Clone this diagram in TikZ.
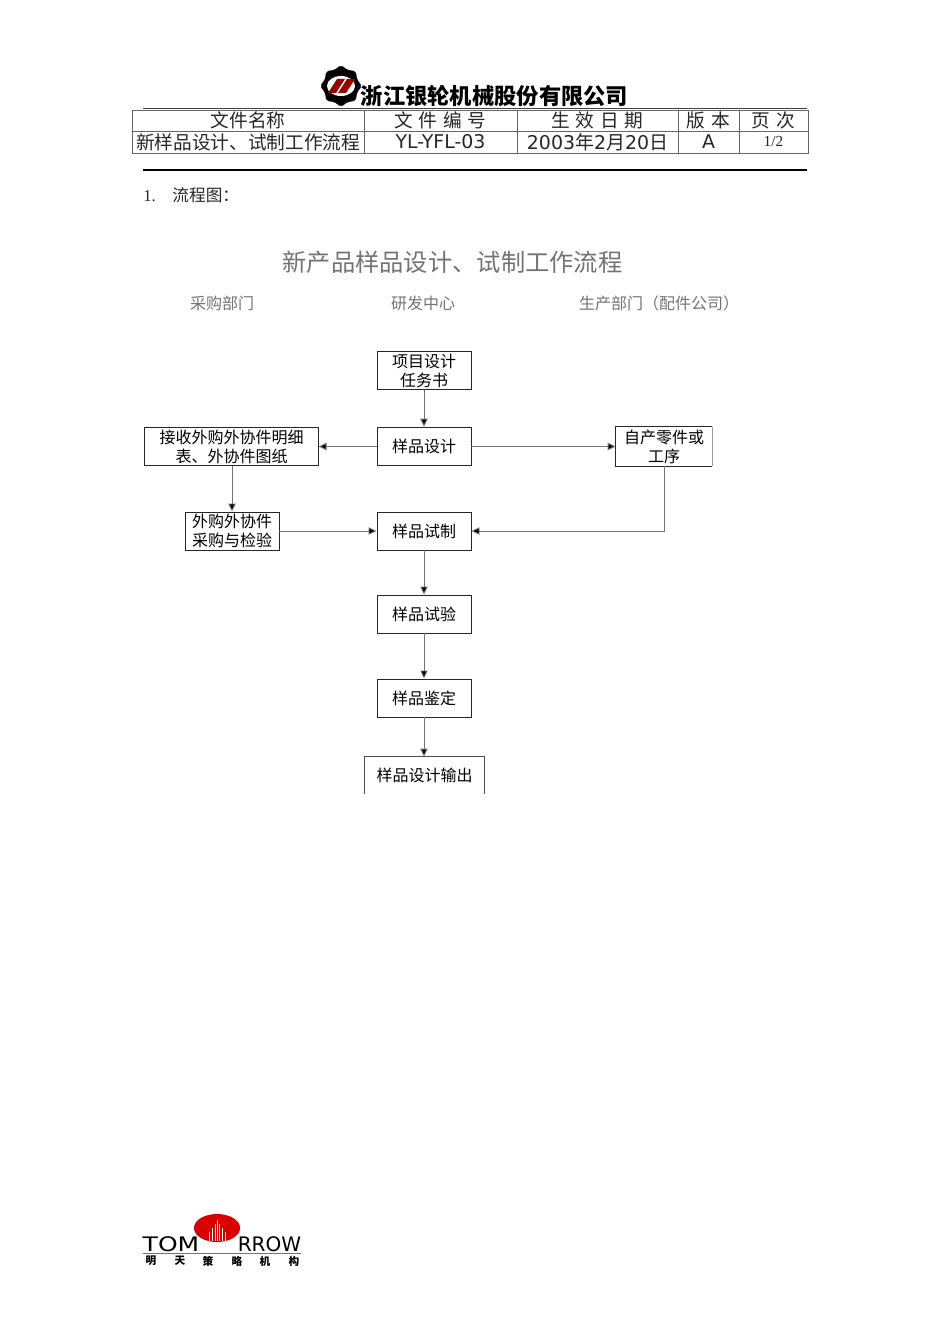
\documentclass[tikz,border=0pt]{standalone}
\usepackage{fontspec}
\usepackage{graphicx}
\setmainfont{Noto Sans CJK SC}
\newfontfamily\latinfont{DejaVu Sans}
\newfontfamily\seriffont{Liberation Serif}
\usetikzlibrary{arrows.meta,positioning,shapes.geometric}
\newcommand{\cellgap}{\hspace{4.4pt}}

\begin{document}
\begin{tikzpicture}[x=0.75pt,y=-0.75pt]
	\tikzstyle{stepbox}=[draw=black!85,line width=0.7pt,inner sep=0pt,align=center,font=\fontsize{12}{14.2}\selectfont]
	\tikzstyle{openbox}=[inner sep=0pt,align=center,font=\fontsize{12}{14.2}\selectfont]
	\tikzstyle{flow}=[draw=black!55,line width=0.7pt,arrows={-Triangle[length=6pt,width=5.5pt,fill=black]}]
	\tikzstyle{cell}=[inner sep=0pt,font=\fontsize{14}{16}\selectfont,text=black!85]
	\tikzstyle{gridline}=[black!60,line width=0.6pt]
	\tikzstyle{heading}=[inner sep=0pt,text=black!55]
	\tikzstyle{footchar}=[inner sep=0pt,font=\fontsize{8}{9}\selectfont\bfseries]
	\useasboundingbox (0,0) rectangle (950,1344);

	% Company logo
	\node[star,star points=8,star point ratio=1.22,fill=black,draw=black,rounded corners=1.5pt,minimum size=31pt,inner sep=0pt] (gear) at (341,86) {};
	\fill[white] (gear.center) ellipse (10.5pt and 7.5pt);
	\fill[red!60!black] (328,93) -- (337,79) -- (355,79) -- (346,93) -- cycle;
	\draw[white,line width=1.1pt] (337,93) -- (346,79);
	\node[inner sep=0pt,font=\fontsize{16.7}{18}\selectfont\bfseries] (company) at (494.5,96) {浙江银轮机械股份有限公司};

	% Header table
	\coordinate (topleft) at (143,108.5);
	\coordinate (topright) at (807,108.5);
	\coordinate (ruleleft) at (143,170);
	\coordinate (ruleright) at (807,170);
	\draw[black!75,line width=1.2pt] (topleft) -- (topright);
	\draw[black,line width=0.8pt] (ruleleft) -- (ruleright);
	\draw[gridline] (132,110) rectangle (808,153);
	\draw[gridline] (132,131) -- (808,131);
	\foreach \xcol in {364,517,678,739}
		\draw[gridline] (\xcol,110) -- (\xcol,153);
	\node[cell] (name) at (248,120) {文件名称};
	\node[cell] (number) at (440.5,120) {文\cellgap 件\cellgap 编\cellgap 号};
	\node[cell] (date) at (597.5,120) {生\cellgap 效\cellgap 日\cellgap 期};
	\node[cell] (version) at (708.5,120) {版\cellgap 本};
	\node[cell] (page) at (773.5,120) {页\cellgap 次};
	\node[cell] (nameval) at (248,142) {新样品设计、试制工作流程};
	\node[cell,font=\latinfont\fontsize{14.2}{16}\selectfont] (numberval) at (440.5,142) {YL-YFL-03};
	\node[cell,font=\latinfont\fontsize{14.2}{16}\selectfont] (dateval) at (597.5,142) {2003{\rmfamily 年}2{\rmfamily 月}20{\rmfamily 日}};
	\node[cell,font=\latinfont\fontsize{14.2}{16}\selectfont] (versionval) at (708.5,142) {A};
	\node[cell,font=\seriffont\fontsize{11.5}{14}\selectfont] (pageval) at (773.5,142) {1/2};
	\node[heading,anchor=west,text=black!85,font=\fontsize{12.5}{16}\selectfont] (section) at (143,195) {{\seriffont 1.}\hspace{12.5pt}流程图\symbol{"FF1A}};

	% Title and departments
	\node[heading,font=\fontsize{18.2}{24}\selectfont] (title) at (452.5,262) {新产品样品设计、试制工作流程};
	\node[heading,font=\fontsize{12}{14}\selectfont] (purchase) at (222,303) {采购部门};
	\node[heading,font=\fontsize{12}{14}\selectfont] (research) at (423,303) {研发中心};
	\node[heading,font=\fontsize{12}{14}\selectfont] (production) at (659,303) {生产部门\symbol{"FF08}配件公司\symbol{"FF09}};

	% Flow boxes
	\node[stepbox,minimum width=70.5pt,minimum height=29pt] (task) at (424,370.5) {项目设计\\任务书};
	\node[stepbox,minimum width=70.5pt,minimum height=29pt] (design) at (424,446.5) {样品设计};
	\node[stepbox,minimum width=130pt,minimum height=29pt] (receive) at (231.5,446.5) {接收外购外协件明细\\表、外协件图纸};
	\node[openbox,minimum width=72pt,minimum height=29pt] (own) at (664,446.5) {自产零件或\\工序};
	\draw[black!85,line width=0.7pt] (own.north east) -- (own.north west) -- (own.south west) -- (own.south east);
	\draw[black!40,line width=0.5pt] (own.north east) -- (own.south east);
	\node[stepbox,minimum width=70.5pt,minimum height=28.5pt] (buy) at (232,531) {外购外协件\\采购与检验};
	\node[stepbox,minimum width=70.5pt,minimum height=28.5pt] (trial) at (424,531) {样品试制};
	\node[stepbox,minimum width=70.5pt,minimum height=28.5pt] (test) at (424,614) {样品试验};
	\node[stepbox,minimum width=70.5pt,minimum height=28.5pt] (appraise) at (424,698) {样品鉴定};
	\node[openbox,minimum width=89.5pt,minimum height=28pt] (output) at (424.5,775.5) {样品设计输出};
	\draw[black!70,line width=0.7pt] (output.south west) -- (output.north west) -- (output.north east) -- (output.south east);

	% Connectors
	\draw[flow] (task) -- (design);
	\draw[flow] (design) -- (receive);
	\draw[flow] (design) -- (own);
	\draw[flow] (receive.south -| buy) -- (buy);
	\draw[flow] (buy) -- (trial);
	\draw[flow] (own.south) |- (trial);
	\draw[flow] (trial) -- (test);
	\draw[flow] (test) -- (appraise);
	\draw[flow] (appraise) -- (appraise |- output.north);

	% Footer logo
	\fill[red!85!black] (217,1228) ellipse (17.3pt and 10.5pt);
	\foreach \xbar/\ybar in {209/1232,212/1228,215/1224,217/1220,219/1224,222/1228,225/1232}
		\draw[white,line width=0.5pt] (\xbar,\ybar) -- (\xbar,1241);
	\node[inner sep=0pt,font=\latinfont\fontsize{15}{16}\selectfont] (tom) at (171,1244) {\scalebox{1.25}[1]{TOM}};
	\node[inner sep=0pt,font=\latinfont\fontsize{15}{16}\selectfont] (row) at (269.5,1244) {RROW};
	\draw[black!55,line width=1.2pt] (143,1253.5) -- (301,1253.5);
	\node[footchar] (ming) at (151,1261) {明};
	\node[footchar] (tian) at (180,1261) {天};
	\node[footchar] (ce) at (208,1261) {策};
	\node[footchar] (lue) at (237,1261) {略};
	\node[footchar] (ji) at (265,1261) {机};
	\node[footchar] (gou) at (294,1261) {构};
\end{tikzpicture}
\end{document}
